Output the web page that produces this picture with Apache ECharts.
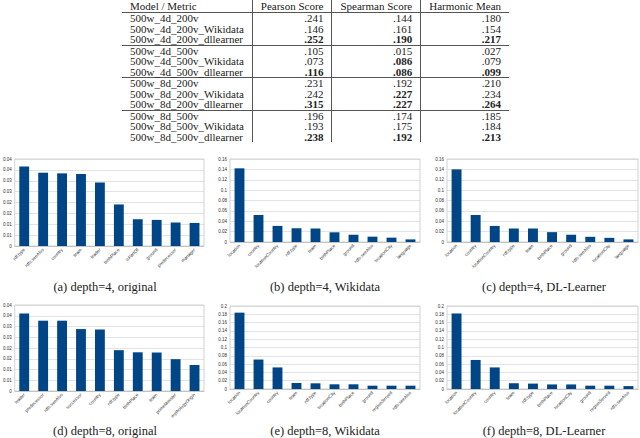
<!DOCTYPE html>
<html>
<head>
<meta charset="utf-8">
<script src="https://cdn.jsdelivr.net/npm/echarts@6/dist/echarts.min.js"></script>
<style>
  html, body { margin: 0; padding: 0; background: #fff; }
  #chart { position: absolute; left: 0; top: 0; width: 640px; height: 438px; }
  #table {
    position: absolute; left: 122px; top: 0;
    border-collapse: collapse;
    font-family: "Liberation Serif", "DejaVu Serif", serif;
    font-size: 11px; color: #222;
  }
  #table td, #table th {
    height: 10.5px; line-height: 10.5px; padding: 0 8px; font-weight: 400;
    white-space: nowrap;
  }
  #table th { height: 12px; line-height: 12px; font-weight: 400 !important; }
  #table .num { text-align: right; border-left: 1px solid #555; }
  #table tr.sep td, #table tr.head th { border-bottom: 1px solid #555; }
  #table td.b { font-weight: 700; }
</style>
</head>
<body>
<div id="chart"></div>
<table id="table"></table>
<script>
// table
const tableHeader = ["Model / Metric", "Pearson Score", "Spearman Score", "Harmonic Mean"];
const models = [
  "500w_4d_200v", "500w_4d_200v_Wikidata", "500w_4d_200v_dllearner",
  "500w_4d_500v", "500w_4d_500v_Wikidata", "500w_4d_500v_dllearner",
  "500w_8d_200v", "500w_8d_200v_Wikidata", "500w_8d_200v_dllearner",
  "500w_8d_500v", "500w_8d_500v_Wikidata", "500w_8d_500v_dllearner"
];
const pearson = [".241", ".146", ".252", ".105", ".073", ".116", ".231", ".242", ".315", ".196", ".193", ".238"];
const spearman = [".144", ".161", ".190", ".015", ".086", ".086", ".192", ".227", ".227", ".174", ".175", ".192"];
const harmonic = [".180", ".154", ".217", ".027", ".079", ".099", ".210", ".234", ".264", ".185", ".184", ".213"];

// bar charts
const catsA = ["rdf:type", "rdfs:seeAlso", "country", "team", "leader", "birthPlace", "isPartOf", "ground", "predecessor", "manager"];
const valsA = [0.0365, 0.0337, 0.0334, 0.0331, 0.0292, 0.0191, 0.0123, 0.0120, 0.0108, 0.0106];

const catsB = ["location", "country", "locationCountry", "rdf:type", "team", "birthPlace", "ground", "rdfs:seeAlso", "locationCity", "language"];
const valsB = [0.142, 0.052, 0.031, 0.0265, 0.026, 0.0187, 0.014, 0.0103, 0.0084, 0.005];

const catsC = ["location", "country", "locationCountry", "rdf:type", "team", "birthPlace", "ground", "rdfs:seeAlso", "locationCity", "language"];
const valsC = [0.140, 0.052, 0.031, 0.026, 0.026, 0.019, 0.014, 0.010, 0.008, 0.005];

const catsD = ["leader", "predecessor", "rdfs:seeAlso", "successor", "country", "rdf:type", "birthPlace", "team", "primeMinister", "mythologyOrigin"];
const valsD = [0.0361, 0.0327, 0.0327, 0.0288, 0.0286, 0.0190, 0.0180, 0.0179, 0.0148, 0.0121];

const catsE = ["location", "locationCountry", "country", "team", "rdf:type", "locationCity", "birthPlace", "ground", "regionServed", "rdfs:seeAlso"];
const valsE = [0.184, 0.071, 0.052, 0.0145, 0.0137, 0.0113, 0.0113, 0.008, 0.008, 0.008];

const catsF = ["location", "locationCountry", "country", "team", "rdf:type", "birthPlace", "locationCity", "ground", "regionServed", "rdfs:seeAlso"];
const valsF = [0.182, 0.070, 0.052, 0.014, 0.013, 0.011, 0.011, 0.008, 0.008, 0.007];

const captions = [
  "(a) depth=4, original", "(b) depth=4, Wikidata", "(c) depth=4, DL-Learner",
  "(d) depth=8, original", "(e) depth=8, Wikidata", "(f) depth=8, DL-Learner"
];
const yMax = [0.04, 0.16, 0.16, 0.04, 0.2, 0.2];
const yStep = [0.005, 0.02, 0.02, 0.005, 0.02, 0.02];

// build the table, best value of each group in bold
let html = "<tr class='head'>" + tableHeader.map((h, i) =>
  "<th class='" + (i ? "num" : "") + "' style='text-align:" + (i ? "right" : "left") + "'>" + h + "</th>").join("") + "</tr>";
const cols = [pearson, spearman, harmonic];
models.forEach((m, r) => {
  const g = Math.floor(r / 3) * 3;
  const cls = (r % 3 === 2 && r < models.length - 1) ? "sep" : "";
  html += "<tr class='" + cls + "'><td>" + m + "</td>";
  cols.forEach((col) => {
    const best = Math.max(...col.slice(g, g + 3).map(Number));
    html += "<td class='num" + (Number(col[r]) === best ? " b" : "") + "'>" + col[r] + "</td>";
  });
  html += "</tr>";
});
document.getElementById("table").innerHTML = html;

// Gráficos
const cats = [catsA, catsB, catsC, catsD, catsE, catsF];
const vals = [valsA, valsB, valsC, valsD, valsE, valsF];
const grids = [
  { left: 12, top: 159, width: 192, height: 87 },
  { left: 230, top: 159, width: 190, height: 83 },
  { left: 447, top: 159, width: 191, height: 83 },
  { left: 12, top: 305, width: 192, height: 86 },
  { left: 230, top: 306, width: 190, height: 83 },
  { left: 447, top: 306, width: 191, height: 83 }
];
const capPos = [[100, 283], [320, 283], [539, 283], [100, 427], [320, 427], [539, 427]];

const fmt = (v) => {
  if (v === 0) return "0";
  return String(Math.round(Math.round(v * 1000) / 10) / 100);
};

let options = {
  animation: false,
  grid: grids.map((g) => ({ ...g, show: true, borderColor: "#b3b3b3", borderWidth: 0.6, backgroundColor: "#fff" })),
  xAxis: cats.map((c, i) => ({
    type: "category",
    gridIndex: i,
    data: c,
    axisLine: { lineStyle: { color: "#b3b3b3", width: 0.6 } },
    axisTick: { length: 2, lineStyle: { color: "#b3b3b3", width: 0.6 } },
    axisLabel: { rotate: 45, fontSize: 4.5, color: "#333", margin: 3, interval: 0, fontFamily: "Liberation Sans" },
  })),
  yAxis: cats.map((c, i) => ({
    type: "value",
    gridIndex: i,
    min: 0,
    max: yMax[i],
    interval: yStep[i],
    axisLine: { show: false },
    axisTick: { show: false },
    splitLine: { lineStyle: { color: "#d0d0d0", width: 0.6 } },
    axisLabel: { fontSize: 4.5, color: "#333", margin: 3, formatter: fmt, fontFamily: "Liberation Sans" },
  })),
  series: vals.map((v, i) => ({
    type: "bar",
    xAxisIndex: i,
    yAxisIndex: i,
    data: v,
    barWidth: "52%",
    itemStyle: { color: "#004586" },
  })),
  title: captions.map((t, i) => ({
    text: t,
    left: capPos[i][0],
    top: capPos[i][1] - 8,
    textAlign: "center",
    textStyle: { fontFamily: "Liberation Serif", fontSize: 12.5, fontWeight: "normal", color: "#222" },
  })),
};

var chart = echarts.init(document.getElementById("chart"), null, { renderer: "svg" });
chart.setOption(options);
</script>
</body>
</html>
